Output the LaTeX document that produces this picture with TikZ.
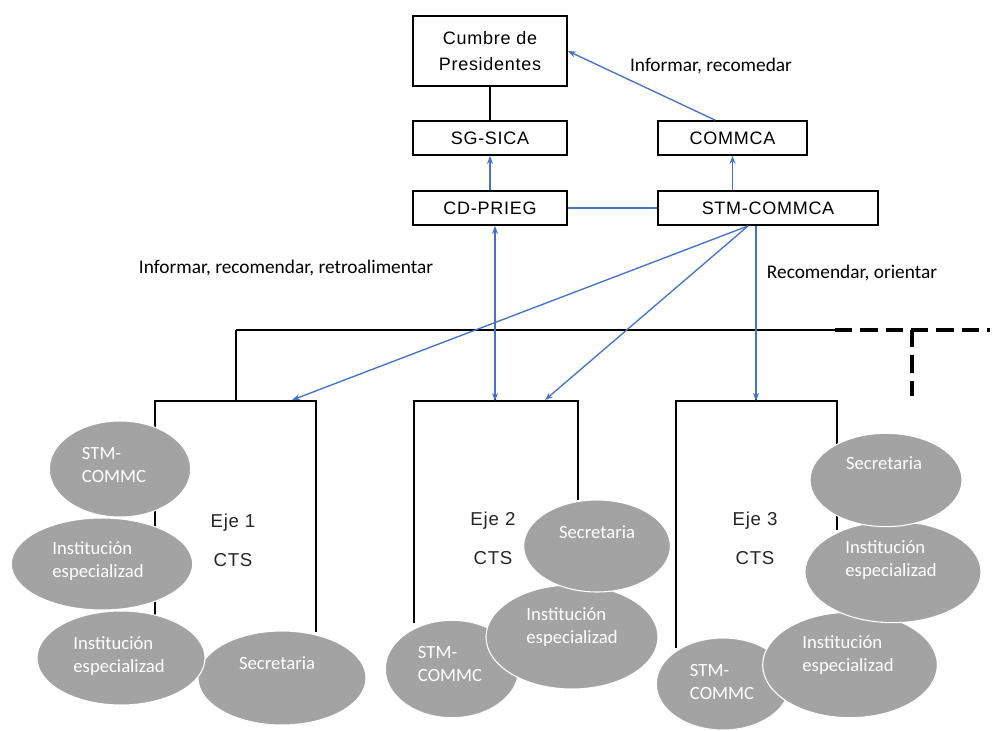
\documentclass[tikz,border=0pt]{standalone}
\usepackage{fontspec}
\setmainfont{Carlito}
\newfontfamily\boxfont{Liberation Sans}[LetterSpace=4]
\usetikzlibrary{arrows.meta,shapes.geometric}
\definecolor{arrowblue}{HTML}{4472C4}
\definecolor{ellgray}{HTML}{A3A3A3}
\begin{document}
\begin{tikzpicture}[x=0.75pt,y=-0.75pt,
  orgbox/.style={draw=black,line width=1.3pt,fill=white,inner sep=0pt,align=center,
    font=\boxfont\fontsize{13.5}{20}\selectfont},
  blu/.style={draw=arrowblue,line width=1pt,-{Stealth[length=6pt,width=4.5pt]}},
  blubi/.style={draw=arrowblue,line width=1pt,{Stealth[length=6pt,width=4.5pt]}-{Stealth[length=6pt,width=4.5pt]}},
  blk/.style={draw=black,line width=1.2pt},
  oval/.style={ellipse,fill=ellgray,draw=white,line width=0.8pt,inner sep=0pt},
  ovaltext/.style={text=white,align=left,font=\fontsize{14}{17}\selectfont,inner sep=0pt},
  lbl/.style={font=\fontsize{14.5}{17}\selectfont,inner sep=0pt},
  ejetext/.style={font=\boxfont\fontsize{14}{29}\selectfont,align=center,inner sep=0pt,text=black!85}
]
\useasboundingbox[fill=white] (0,0) rectangle (992,731);

% top boxes
\node[orgbox,minimum width=115.5pt,minimum height=52.5pt] (cumbre) at (490,51) {Cumbre de\\Presidentes};
\node[orgbox,minimum width=115.5pt,minimum height=25.5pt] (sg) at (490,138) {SG-SICA};
\node[orgbox,minimum width=115.5pt,minimum height=25.5pt] (cd) at (490,208) {CD-PRIEG};
\node[orgbox,minimum width=111.75pt,minimum height=25.5pt] (comm) at (732.5,138) {COMMCA};
\node[orgbox,minimum width=165pt,minimum height=25.5pt] (stm) at (768,208) {STM-COMMCA};

% eje box anchor points
\coordinate (e1t) at (236,401);
\coordinate (e2t) at (495,401);
\coordinate (e3t) at (756,401);
\coordinate (bus1) at (236,330);
\coordinate (bus2) at (835,330);
\coordinate (busend) at (990,330);
\coordinate (dashtop) at (912,330);
\coordinate (dashbot) at (912,396);

% bus and eje boxes
\draw[blk] (bus1) -- (bus2);
\draw[blk,dashed,line width=2.4pt,dash pattern=on 13pt off 6pt] (bus2) -- (busend);
\draw[blk,dashed,line width=2.4pt,dash pattern=on 13pt off 6pt] (dashtop) -- (dashbot);
\draw[blk] (bus1) -- (e1t);
\draw[blk] (e2t |- bus1) -- (e2t);
\draw[blk] (e3t |- bus1) -- (e3t);
\draw[blk] (155,615) -- (155,401) -- (316,401) -- (316,632);
\draw[blk] (414,623) -- (414,401) -- (578,401) -- (578,500);
\draw[blk] (676,648) -- (676,401) -- (837,401) -- (837,530);

% top connectors
\draw[blk] (cumbre.south) -- (sg.north);
\draw[blu] (cd.north) -- (sg.south);
\draw[blu] (comm.south |- stm.north) -- (comm.south);
\draw[blu] ([xshift=-13pt]comm.north) -- (cumbre.east);
\draw[draw=arrowblue,line width=2pt] (cd.east) -- (stm.west);

% downward arrows
\coordinate (fan) at (748,226);
\coordinate (e1a) at (292,400);
\coordinate (e2a) at (545,400);
\draw[blubi] (cd.south -| e2t) -- (e2t);
\draw[blu] (fan) -- (e1a);
\draw[blu] (fan) -- (e2a);
\draw[blu] (e3t |- stm.south) -- (e3t);

% labels
\node[lbl] (l1) at (711,66) {Informar, recomedar};
\node[lbl] (l2) at (286,268) {Informar, recomendar, retroalimentar};
\node[lbl] (l3) at (852,273) {Recomendar, orientar};

% eje texts
\node[ejetext] (x1) at (233,540) {Eje 1\\CTS};
\node[ejetext] (x2) at (493,538) {Eje\,\,2\\CTS};
\node[ejetext] (x3) at (755,538) {Eje 3\\CTS};

% Eje 1 ellipses
\node[oval,minimum width=126pt,minimum height=70.5pt] (a4) at (282,678) {};
\node[oval,minimum width=126pt,minimum height=70.5pt] (a3) at (121,658) {};
\node[oval,minimum width=136pt,minimum height=69pt] (a2) at (102,564) {};
\node[oval,minimum width=106pt,minimum height=72pt] (a1) at (120,469) {};
\node[ovaltext] at (114,465) {STM-\\COMMC};
\node[ovaltext] at (98,561) {Institución\\especializad};
\node[ovaltext] at (119,656) {Institución\\especializad};
\node[ovaltext] at (277,663) {Secretaria};

% Eje 2 ellipses
\node[oval,minimum width=100pt,minimum height=73pt] (b3) at (452,669) {};
\node[oval,minimum width=129pt,minimum height=78pt] (b2) at (572,637) {};
\node[oval,minimum width=110pt,minimum height=69pt] (b1) at (597,546) {};
\node[ovaltext] at (597,532) {Secretaria};
\node[ovaltext] at (572,627) {Institución\\especializad};
\node[ovaltext] at (450,664) {STM-\\COMMC};

% Eje 3 ellipses
\node[oval,minimum width=100pt,minimum height=69pt] (c4) at (723,684) {};
\node[oval,minimum width=131pt,minimum height=79pt] (c3) at (850,665) {};
\node[oval,minimum width=132pt,minimum height=76pt] (c2) at (893,572) {};
\node[oval,minimum width=114pt,minimum height=70pt] (c1) at (886,480) {};
\node[ovaltext] at (884,463) {Secretaria};
\node[ovaltext] at (891,560) {Institución\\especializad};
\node[ovaltext] at (848,655) {Institución\\especializad};
\node[ovaltext] at (722,682) {STM-\\COMMC};
\end{tikzpicture}
\end{document}
